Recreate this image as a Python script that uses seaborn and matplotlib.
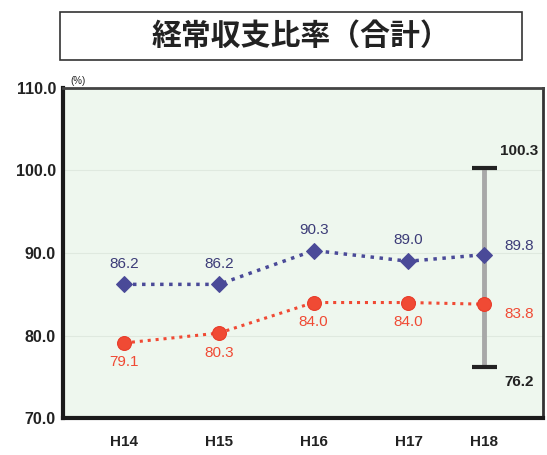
import matplotlib
matplotlib.use("Agg")
import matplotlib.pyplot as plt
import seaborn as sns
import pandas as pd
from matplotlib.patches import Rectangle

# data
years = ["H14", "H15", "H16", "H17", "H18"]
x_pos = [0, 1, 2, 3, 3.8]
blue_vals = [86.2, 86.2, 90.3, 89.0, 89.8]
red_vals = [79.1, 80.3, 84.0, 84.0, 83.8]
range_high = 100.3
range_low = 76.2
y_ticks = [70.0, 80.0, 90.0, 100.0, 110.0]

sns.set_style("white")
plt.rcParams["font.family"] = ["Liberation Sans", "Noto Sans CJK JP", "DejaVu Sans"]

df = pd.DataFrame({"x": x_pos, "blue": blue_vals, "red": red_vals})

fig = plt.figure(figsize=(5.47, 4.55), dpi=100)
ax = fig.add_axes([0.115, 0.081, 0.878, 0.726])
ax.set_facecolor("#eef7ee")

blue_c = "#4a4a98"
red_c = "#f04a34"

# range bar behind the last points
ax.vlines(x_pos[-1], range_low, range_high, color="#a8a8a8", lw=3.5, zorder=1)
ax.hlines([range_low, range_high], x_pos[-1] - 0.13, x_pos[-1] + 0.13,
          color="#222222", lw=3, zorder=2)

sns.lineplot(data=df, x="x", y="blue", ax=ax, color=blue_c, linestyle=(0, (1, 1.6)),
             lw=2.5, marker="D", markersize=8.5, markeredgecolor=blue_c, zorder=3)
sns.lineplot(data=df, x="x", y="red", ax=ax, color=red_c, linestyle=(0, (1, 1.6)),
             lw=2.2, marker="o", markersize=10, markeredgecolor="#e83a28", zorder=3)

for i, (xv, bv, rv) in enumerate(zip(x_pos, blue_vals, red_vals)):
    if i < len(x_pos) - 1:
        ax.annotate(f"{bv:.1f}", (xv, bv), xytext=(0, 15), textcoords="offset points",
                    ha="center", va="center", fontsize=11, color="#3c3c78")
        ax.annotate(f"{rv:.1f}", (xv, rv), xytext=(0, -14), textcoords="offset points",
                    ha="center", va="center", fontsize=11, color=red_c)
    else:
        ax.annotate(f"{bv:.1f}", (xv, bv), xytext=(25, 6), textcoords="offset points",
                    ha="center", va="center", fontsize=11, color="#3c3c78")
        ax.annotate(f"{rv:.1f}", (xv, rv), xytext=(25, -7), textcoords="offset points",
                    ha="center", va="center", fontsize=11, color=red_c)

ax.annotate(f"{range_high:.1f}", (x_pos[-1], range_high), xytext=(25, 12),
            textcoords="offset points", ha="center", va="center",
            fontsize=11, fontweight="bold", color="#222222")
ax.annotate(f"{range_low:.1f}", (x_pos[-1], range_low), xytext=(25, -11),
            textcoords="offset points", ha="center", va="center",
            fontsize=11, fontweight="bold", color="#222222")

ax.set_xlim(-0.644, 4.42)
ax.set_ylim(70, 110)
ax.set_yticks(y_ticks)
ax.set_yticklabels([f"{v:.1f}" for v in y_ticks], fontsize=11.5, fontweight="bold")
ax.set_xticks(x_pos)
ax.set_xticklabels(years, fontsize=11, fontweight="bold")
ax.tick_params(axis="both", length=0, colors="#222222")
ax.tick_params(axis="x", pad=12)
ax.tick_params(axis="y", pad=5)
ax.set_xlabel("")
ax.set_ylabel("")
for v in [80, 90, 100]:
    ax.axhline(v, color="#dfe9df", lw=0.8, zorder=0)

ax.spines["left"].set_linewidth(3)
ax.spines["bottom"].set_linewidth(3)
ax.spines["left"].set_color("#1a1a1a")
ax.spines["bottom"].set_color("#1a1a1a")
ax.spines["top"].set_linewidth(2)
ax.spines["top"].set_color("#444444")
ax.spines["right"].set_linewidth(2)
ax.spines["right"].set_color("#333333")

fig.text(0.128, 0.812, "(%)", fontsize=7, color="#222222", va="bottom")

# title box
fig.patches.append(Rectangle((0.110, 0.868), 0.844, 0.106, transform=fig.transFigure,
                             fill=False, edgecolor="#333333", lw=1.2))
fig.text(0.550, 0.921, "経常収支比率（合計）", ha="center", va="center", fontsize=21.5,
         fontweight="bold", family=["Noto Sans CJK JP", "DejaVu Sans"], color="#222222")

fig.savefig("out.png", dpi=100)
